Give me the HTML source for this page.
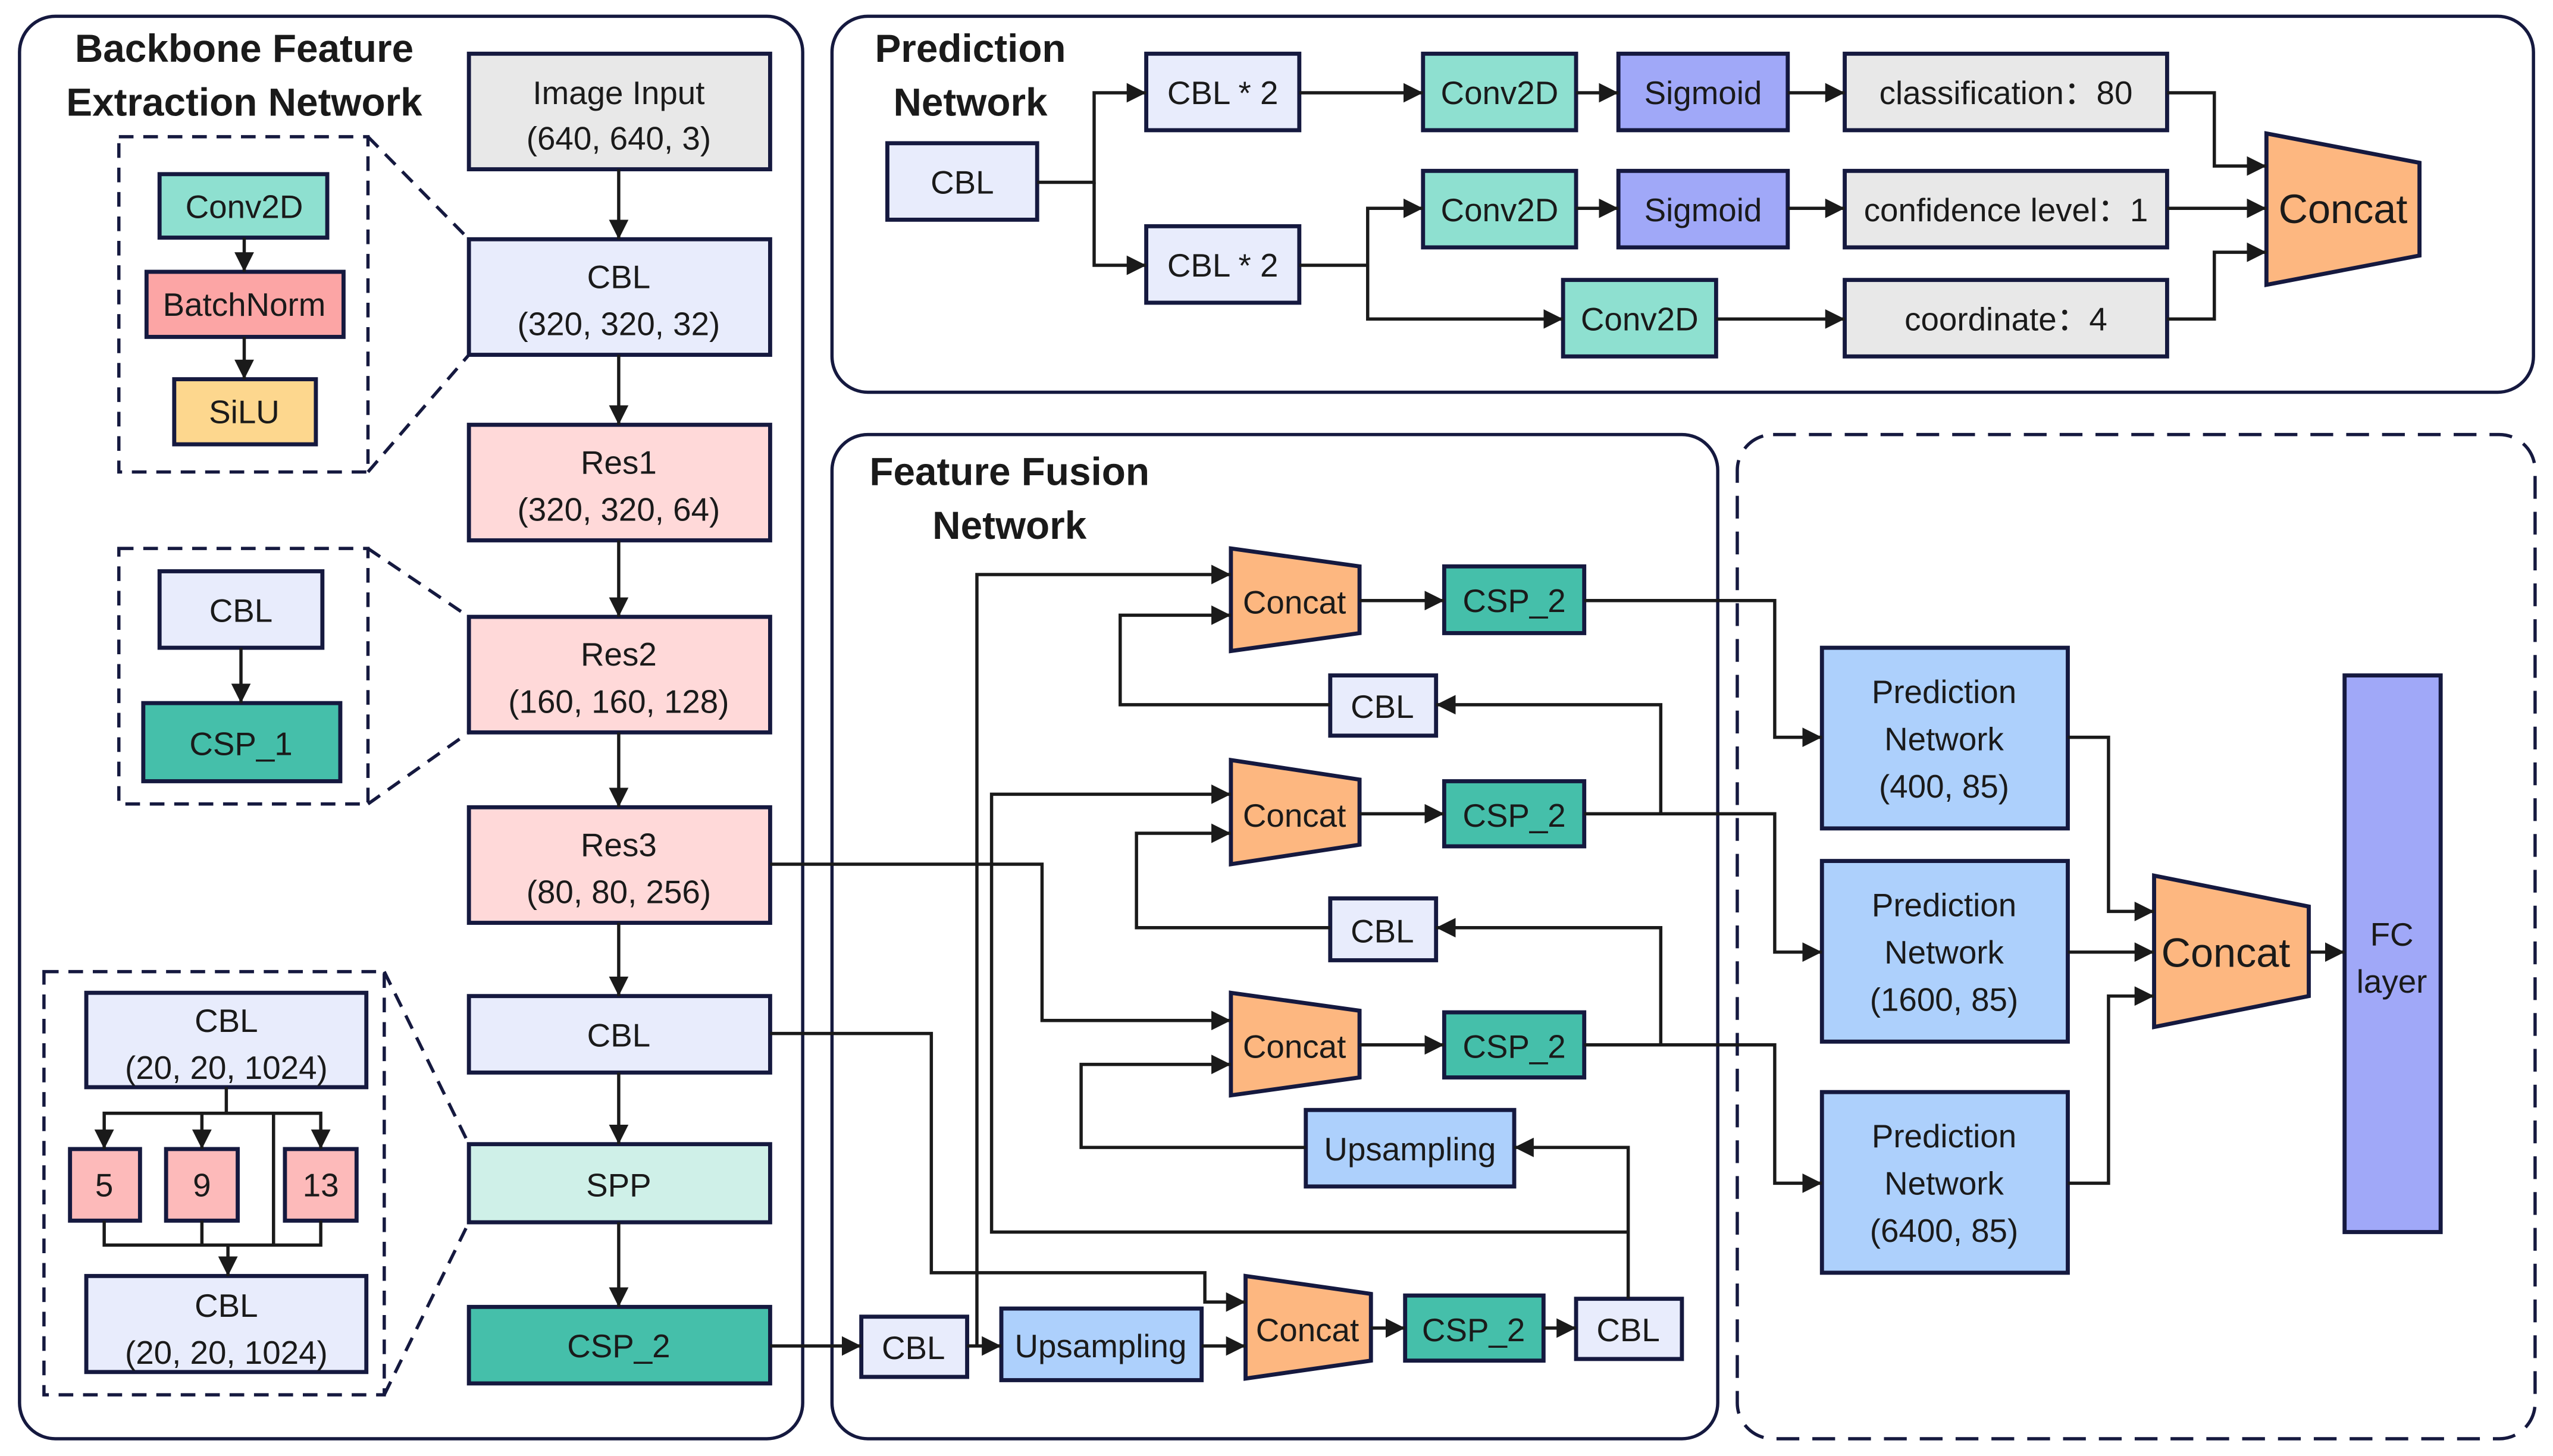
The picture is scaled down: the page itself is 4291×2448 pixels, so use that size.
<!DOCTYPE html>
<html><head><meta charset="utf-8"><style>
html,body{margin:0;padding:0;background:#fff;}
svg{display:block;}
text{font-family:"Liberation Sans",sans-serif;fill:#1a1a1a;}
</style></head><body>
<svg width="4291" height="2448" viewBox="0 0 1568 894.6" preserveAspectRatio="none" xmlns="http://www.w3.org/2000/svg">
<defs>
<marker id="a" markerUnits="userSpaceOnUse" markerWidth="12" markerHeight="12" viewBox="0 0 12 12" refX="12" refY="6" orient="auto">
<path d="M0,0 L12,6 L0,12 z" fill="#1a1a1a"/></marker>
</defs>
<g fill="none" stroke="#15193f" stroke-width="2">
<rect x="12" y="10" width="481" height="874" rx="22"/>
<rect x="511" y="10" width="1045" height="231" rx="22"/>
<rect x="511" y="267" width="544" height="617" rx="22"/>
<rect x="1067" y="267" width="490" height="617" rx="22" stroke-dasharray="14,8"/>
<g stroke-dasharray="9,6">
<rect x="73" y="84" width="153" height="206"/>
<rect x="73" y="337" width="153" height="157"/>
<rect x="27" y="597" width="209" height="260"/>
<path d="M226,84 L288,147 M226,290 L288,218 M226,337 L288,379 M226,494 L288,450 M236,597 L288,703 M236,857 L288,751"/>
</g>
</g>
<g font-weight="bold" font-size="24" text-anchor="middle">
<text x="150" y="38">Backbone Feature</text>
<text x="150" y="71">Extraction Network</text>
<text x="596" y="38">Prediction</text>
<text x="596" y="71">Network</text>
<text x="620" y="298">Feature Fusion</text>
<text x="620" y="331">Network</text>
</g>
<g stroke="#15193f" stroke-width="2.5">
<rect x="288" y="33" width="185" height="71" fill="#e8e8e8"/>
<rect x="288" y="147" width="185" height="71" fill="#e8ecfc"/>
<rect x="288" y="261" width="185" height="71" fill="#ffd9d9"/>
<rect x="288" y="379" width="185" height="71" fill="#ffd9d9"/>
<rect x="288" y="496" width="185" height="71" fill="#ffd9d9"/>
<rect x="288" y="612" width="185" height="47" fill="#e8ecfc"/>
<rect x="288" y="703" width="185" height="48" fill="#cff0e8"/>
<rect x="288" y="803" width="185" height="47" fill="#45bfaa"/>
<rect x="98" y="107" width="103" height="39" fill="#8ee0d0"/>
<rect x="90" y="167" width="121" height="40" fill="#fca5a5"/>
<rect x="107" y="233" width="87" height="40" fill="#fdd78e"/>
<rect x="98" y="351" width="100" height="47" fill="#e8ecfc"/>
<rect x="88" y="432" width="121" height="48" fill="#45bfaa"/>
<rect x="53" y="610" width="172" height="58" fill="#e8ecfc"/>
<rect x="43" y="706" width="43" height="44" fill="#fdbaba"/>
<rect x="102" y="706" width="44" height="44" fill="#fdbaba"/>
<rect x="175" y="706" width="44" height="44" fill="#fdbaba"/>
<rect x="53" y="784" width="172" height="59" fill="#e8ecfc"/>
<rect x="545" y="88" width="92" height="47" fill="#e8ecfc"/>
<rect x="704" y="33" width="94" height="47" fill="#e8ecfc"/>
<rect x="704" y="139" width="94" height="47" fill="#e8ecfc"/>
<rect x="874" y="33" width="94" height="47" fill="#8ee0d0"/>
<rect x="994" y="33" width="104" height="47" fill="#a0a8f8"/>
<rect x="1133" y="33" width="198" height="47" fill="#e8e8e8"/>
<rect x="874" y="105" width="94" height="47" fill="#8ee0d0"/>
<rect x="994" y="105" width="104" height="47" fill="#a0a8f8"/>
<rect x="1133" y="105" width="198" height="47" fill="#e8e8e8"/>
<rect x="960" y="172" width="94" height="47" fill="#8ee0d0"/>
<rect x="1133" y="172" width="198" height="47" fill="#e8e8e8"/>
<path d="M1392,82 L1486,100 L1486,157 L1392,175 z" fill="#fdb780"/>
<path d="M756,337 L835,348 L835,389 L756,400 z" fill="#fdb780"/>
<path d="M756,467 L835,479 L835,519 L756,531 z" fill="#fdb780"/>
<path d="M756,610 L835,621 L835,662 L756,673 z" fill="#fdb780"/>
<path d="M765,784 L842,795 L842,836 L765,847 z" fill="#fdb780"/>
<rect x="887" y="348" width="86" height="41" fill="#45bfaa"/>
<rect x="887" y="480" width="86" height="40" fill="#45bfaa"/>
<rect x="887" y="622" width="86" height="40" fill="#45bfaa"/>
<rect x="863" y="796" width="85" height="40" fill="#45bfaa"/>
<rect x="817" y="415" width="65" height="37" fill="#e8ecfc"/>
<rect x="817" y="552" width="65" height="38" fill="#e8ecfc"/>
<rect x="529" y="809" width="65" height="37" fill="#e8ecfc"/>
<rect x="968" y="798" width="65" height="37" fill="#e8ecfc"/>
<rect x="802" y="682" width="128" height="47" fill="#add0fc"/>
<rect x="615" y="804" width="123" height="44" fill="#add0fc"/>
<rect x="1119" y="398" width="151" height="111" fill="#add0fc"/>
<rect x="1119" y="529" width="151" height="111" fill="#add0fc"/>
<rect x="1119" y="671" width="151" height="111" fill="#add0fc"/>
<path d="M1323,538 L1418,557 L1418,612 L1323,631 z" fill="#fdb780"/>
<rect x="1440" y="415" width="59" height="342" fill="#a0a8f8"/>
</g>
<g fill="none" stroke="#1a1a1a" stroke-width="2">
<path d="M64,750 V765 H197 V750"/><path d="M124,750 V765"/><path d="M168,684 V765"/>
</g>
<g fill="none" stroke="#1a1a1a" stroke-width="2" marker-end="url(#a)">
<path d="M380,104 V147"/><path d="M380,218 V261"/><path d="M380,332 V379"/><path d="M380,450 V496"/>
<path d="M380,567 V612"/><path d="M380,659 V703"/><path d="M380,751 V803"/>
<path d="M150,146 V167"/><path d="M150,207 V233"/><path d="M148,398 V432"/>
<path d="M139,668 V684 H64 V706"/><path d="M139,684 H124 V706"/><path d="M139,684 H197 V706"/>
<path d="M140,765 V784"/>
<path d="M637,112 H672 V57 H704"/><path d="M672,112 V163 H704"/>
<path d="M798,57 H874"/><path d="M968,57 H994"/><path d="M1098,57 H1133"/>
<path d="M1331,57 H1360 V102 H1392"/>
<path d="M798,163 H840 V128 H874"/><path d="M840,163 V196 H960"/>
<path d="M968,128 H994"/><path d="M1098,128 H1133"/><path d="M1331,128 H1392"/>
<path d="M1054,196 H1133"/><path d="M1331,196 H1360 V155 H1392"/>
<path d="M473,827 H529"/><path d="M594,827 H615"/>
<path d="M600,827 V353 H756"/>
<path d="M1000,798 V705 H930"/><path d="M1000,757 H609 V488 H756"/>
<path d="M473,531 H640 V627 H756"/>
<path d="M473,635 H572 V782 H740 V800 H765"/>
<path d="M738,827 H765"/><path d="M842,816 H863"/><path d="M948,816 H968"/>
<path d="M802,705 H664 V654 H756"/>
<path d="M835,642 H887"/><path d="M835,500 H887"/><path d="M835,369 H887"/>
<path d="M973,642 H1020 V570 H882"/><path d="M1020,642 H1090 V727 H1119"/>
<path d="M817,570 H698 V512 H756"/>
<path d="M973,500 H1020 V433 H882"/><path d="M1020,500 H1090 V585 H1119"/>
<path d="M817,433 H688 V378 H756"/>
<path d="M973,369 H1090 V453 H1119"/>
<path d="M1270,453 H1295 V560 H1323"/><path d="M1270,585 H1323"/><path d="M1270,727 H1295 V612 H1323"/>
<path d="M1418,585 H1440"/>
</g>
<g font-size="20" text-anchor="middle">
<text x="380" y="64">Image Input</text><text x="380" y="92">(640, 640, 3)</text>
<text x="380" y="177">CBL</text><text x="380" y="206">(320, 320, 32)</text>
<text x="380" y="291">Res1</text><text x="380" y="320">(320, 320, 64)</text>
<text x="380" y="409">Res2</text><text x="380" y="438">(160, 160, 128)</text>
<text x="380" y="526">Res3</text><text x="380" y="555">(80, 80, 256)</text>
<text x="380" y="643">CBL</text><text x="380" y="735">SPP</text><text x="380" y="834">CSP_2</text>
<text x="150" y="134">Conv2D</text><text x="150" y="194">BatchNorm</text><text x="150" y="260">SiLU</text>
<text x="148" y="382">CBL</text><text x="148" y="464">CSP_1</text>
<text x="139" y="634">CBL</text><text x="139" y="663">(20, 20, 1024)</text>
<text x="64" y="735">5</text><text x="124" y="735">9</text><text x="197" y="735">13</text>
<text x="139" y="809">CBL</text><text x="139" y="838">(20, 20, 1024)</text>
<text x="591" y="119">CBL</text><text x="751" y="64">CBL * 2</text><text x="751" y="170">CBL * 2</text>
<text x="921" y="64">Conv2D</text><text x="1046" y="64">Sigmoid</text><text x="1232" y="64">classification：80</text>
<text x="921" y="136">Conv2D</text><text x="1046" y="136">Sigmoid</text><text x="1232" y="136">confidence level：1</text>
<text x="1007" y="203">Conv2D</text><text x="1232" y="203">coordinate：4</text>
<text x="795" y="377">Concat</text><text x="795" y="508">Concat</text><text x="795" y="650">Concat</text><text x="803" y="824">Concat</text>
<text x="930" y="376">CSP_2</text><text x="930" y="508">CSP_2</text><text x="930" y="650">CSP_2</text><text x="905" y="824">CSP_2</text>
<text x="849" y="441">CBL</text><text x="849" y="579">CBL</text><text x="561" y="835">CBL</text><text x="1000" y="824">CBL</text>
<text x="866" y="713">Upsampling</text><text x="676" y="834">Upsampling</text>
<text x="1194" y="432">Prediction</text><text x="1194" y="461">Network</text><text x="1194" y="490">(400, 85)</text>
<text x="1194" y="563">Prediction</text><text x="1194" y="592">Network</text><text x="1194" y="621">(1600, 85)</text>
<text x="1194" y="705">Prediction</text><text x="1194" y="734">Network</text><text x="1194" y="763">(6400, 85)</text>
<text x="1469" y="581">FC</text><text x="1469" y="610">layer</text>
</g>
<g font-size="25" text-anchor="middle">
<text x="1439" y="137">Concat</text>
<text x="1367" y="594">Concat</text>
</g>
</svg>
</body></html>
